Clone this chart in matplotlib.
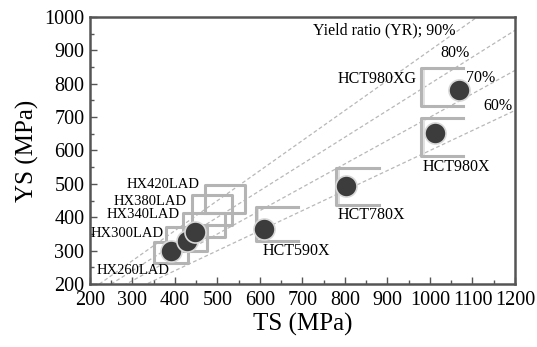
import numpy as np
import matplotlib.pyplot as plt
from matplotlib.ticker import MultipleLocator

plt.rcParams['font.family'] = ['Liberation Serif', 'DejaVu Serif']

# measured grades: tensile strength / yield strength (MPa)
hx_ts = [390, 428, 447]
hx_ys = [300, 330, 355]
hct_names = ['HCT590X', 'HCT780X', 'HCT980X', 'HCT980XG']
hct_ts = [609, 802, 1012, 1068]
hct_ys = [365, 493, 652, 781]

# specification windows (TS min, TS max, YS min, YS max)
hx_names = ['HX260LAD', 'HX300LAD', 'HX340LAD', 'HX380LAD', 'HX420LAD']
hx_ts_min = [350, 380, 420, 440, 470]
hx_ts_max = [430, 475, 518, 535, 565]
hx_ys_min = [262, 300, 340, 378, 414]
hx_ys_max = [326, 370, 412, 468, 498]
hct_ts_min = [590, 780, 980, 980]
hct_ts_max = [690, 880, 1078, 1078]
hct_ys_min = [328, 438, 584, 734]
hct_ys_max = [430, 548, 698, 848]

yield_ratios = [0.9, 0.8, 0.7, 0.6]

fig = plt.figure(figsize=(5.37, 3.47), dpi=100)
ax = fig.add_axes([0.1676, 0.1816, 0.7914, 0.7694])

box_col = '#b4b4b4'
ts_line = np.array([150, 1250])
for r in yield_ratios:
    ax.plot(ts_line, r * ts_line, color='#b8b8b8', ls=(0, (3, 2)), lw=0.9, zorder=1)

for i in range(len(hx_names)):
    x0, x1 = hx_ts_min[i], hx_ts_max[i]
    y0, y1 = hx_ys_min[i], hx_ys_max[i]
    ax.plot([x0, x1, x1, x0, x0], [y0, y0, y1, y1, y0], color=box_col, lw=2.2, zorder=2)

for i in range(len(hct_names)):
    x0, x1 = hct_ts_min[i], hct_ts_max[i]
    y0, y1 = hct_ys_min[i], hct_ys_max[i]
    ax.fill_betweenx([y0, y1], x0, x0 + 8, color='#e2e2e2', lw=0, zorder=2)
    ax.plot([x1, x0, x0, x1], [y0, y0, y1, y1], color=box_col, lw=2.2, zorder=2)

ax.scatter(hx_ts + hct_ts, hx_ys + hct_ys, s=230, color='#3c3c3c',
           edgecolors='#d8d8d8', linewidths=1.2, zorder=3)

fs = 11.5
ax.text(1059, 961, 'Yield ratio (YR); 90%', ha='right', va='center', fontsize=fs)
ax.text(1059, 892, '80%', ha='center', va='center', fontsize=fs)
ax.text(1120, 818, '70%', ha='center', va='center', fontsize=fs)
ax.text(1160, 734, '60%', ha='center', va='center', fontsize=fs)
ax.text(969, 814, 'HCT980XG', ha='right', va='center', fontsize=fs)
ax.text(983, 550, 'HCT980X', ha='left', va='center', fontsize=fs)
ax.text(783, 407, 'HCT780X', ha='left', va='center', fontsize=fs)
ax.text(605, 299, 'HCT590X', ha='left', va='center', fontsize=fs)

hfs = 10.5
ax.text(459, 497, 'HX420LAD', ha='right', va='center', fontsize=hfs)
ax.text(428, 448, 'HX380LAD', ha='right', va='center', fontsize=hfs)
ax.text(412, 408, 'HX340LAD', ha='right', va='center', fontsize=hfs)
ax.text(374, 352, 'HX300LAD', ha='right', va='center', fontsize=hfs)
ax.text(216, 239, 'HX260LAD', ha='left', va='center', fontsize=hfs)

ax.set_xlim(200, 1200)
ax.set_ylim(200, 1000)
ax.xaxis.set_major_locator(MultipleLocator(100))
ax.xaxis.set_minor_locator(MultipleLocator(50))
ax.yaxis.set_major_locator(MultipleLocator(100))
ax.yaxis.set_minor_locator(MultipleLocator(50))
ax.tick_params(which='both', direction='in', color='#555555', labelsize=14.5)
ax.tick_params(which='major', length=5, width=1)
ax.tick_params(which='minor', length=3, width=1)
ax.tick_params(axis='x', pad=5)
ax.tick_params(axis='y', pad=4)
for s in ax.spines.values():
    s.set_color('#555555')
    s.set_linewidth(1.8)

ax.set_xlabel('TS (MPa)', fontsize=18, labelpad=2)
ax.set_ylabel('YS (MPa)', fontsize=18, labelpad=4)

fig.savefig('out.png', dpi=100)
